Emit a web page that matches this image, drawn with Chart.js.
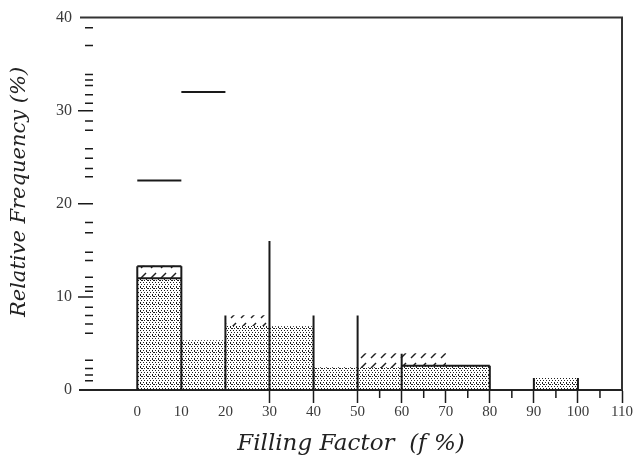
<!DOCTYPE html>
<html>
<head>
<meta charset="utf-8">
<script src="https://cdn.jsdelivr.net/npm/chart.js@4"></script>
<style>
  html, body { margin: 0; padding: 0; background: #fff; }
  #wrap { width: 636px; height: 458px; }
</style>
</head>
<body>
<div id="wrap"><canvas id="freqChart" width="636" height="458"></canvas></div>
<script>
// histogram bins (left edge of each 10% bin) and their heights
const binWidth = 10;
const binLeft = [0, 10, 20, 30, 40, 50, 60, 70, 90];
const dottedPct = [12.0, 5.3, 6.9, 6.8, 2.4, 2.4, 2.6, 2.6, 1.3];

// hatched caps sitting on top of some bins
const hatchLeft = [0, 20, 50, 60];
const hatchLow = [12.0, 6.9, 2.4, 2.6];
const hatchTop = [13.3, 8.0, 3.9, 3.9];

// vertical rules drawn up from the axis
const vLineX = [0, 10, 20, 30, 40, 50, 60, 80, 90, 100];
const vLineTop = [13.3, 13.3, 8.0, 16.0, 8.0, 8.0, 3.9, 2.6, 1.3, 1.3];

// horizontal segments
const hSegFrom = [0, 0, 60, 0, 10];
const hSegTo = [10, 10, 80, 10, 20];
const hSegLevel = [13.3, 12.0, 2.6, 22.5, 32.0];

// axis ticks
const xTickValues = [0, 10, 20, 30, 40, 50, 60, 70, 80, 90, 100, 110];
const xMinorTicks = [55, 65, 75, 85, 95, 105];
const yTickValues = [0, 10, 20, 30, 40];
const yMinorTicks = [1, 1.6, 2.3, 3.2, 6.1, 7.1, 8, 8.9, 10.6, 11.1, 12.1, 13.9, 14.8,
    16.9, 18, 22.9, 23.8, 24.9, 25.9, 27.9, 28.9, 30.8, 31.7, 32.7, 33.3, 33.9, 37, 38.9];

const ink = '#1a1a1a';
const serif = "'Liberation Serif', 'DejaVu Serif', serif";
const wideSerif = "'DejaVu Serif', 'Liberation Serif', serif";

// stipple fill used for the main bars
function makeDotPattern() {
    const c = document.createElement('canvas');
    c.width = 6; c.height = 8;
    const g = c.getContext('2d');
    g.fillStyle = '#1e1e1e';
    g.fillRect(0, 0, 1, 1);
    g.fillRect(3, 0, 2, 1);
    g.fillRect(2, 2, 1, 1);
    g.fillRect(5, 2, 1, 1);
    g.fillRect(0, 4, 1, 1);
    g.fillRect(3, 4, 1, 1);
    g.fillRect(2, 6, 1, 2);
    g.fillRect(5, 6, 1, 1);
    return g.createPattern(c, 'repeat');
}

// short slashes used for the hatched caps
function makeHatchPattern() {
    const c = document.createElement('canvas');
    c.width = 10; c.height = 10;
    const g = c.getContext('2d');
    g.strokeStyle = '#1e1e1e';
    g.lineWidth = 1.5;
    g.beginPath();
    g.moveTo(1, 8);
    g.lineTo(6, 3);
    g.stroke();
    return g.createPattern(c, 'repeat');
}

const ctx = document.getElementById('freqChart').getContext('2d');

const dottedData = binLeft.map((l, i) => ({ x: l + binWidth / 2, y: dottedPct[i] }));
const hatchData = hatchLeft.map((l, i) => ({ x: l + binWidth / 2, y: [hatchLow[i], hatchTop[i]] }));

const ruleData = [];
vLineX.forEach((x, i) => {
    ruleData.push({ x: x, y: 0 }, { x: x, y: vLineTop[i] }, { x: x, y: null });
});
hSegFrom.forEach((x, i) => {
    ruleData.push({ x: x, y: hSegLevel[i] }, { x: hSegTo[i], y: hSegLevel[i] }, { x: hSegTo[i], y: null });
});

// frame, small ticks and the rotated y title
const decorations = {
    id: 'decorations',
    afterDraw(chart) {
        const { ctx: c, chartArea: a, scales } = chart;
        const xs = scales.x, ys = scales.y;
        c.save();
        c.strokeStyle = '#333';
        c.lineWidth = 2;
        c.beginPath();
        c.moveTo(a.left, a.top);
        c.lineTo(a.right, a.top);
        c.lineTo(a.right, a.bottom);
        c.stroke();

        c.strokeStyle = ink;
        c.lineWidth = 1.5;
        c.beginPath();
        xMinorTicks.forEach(v => {
            const px = xs.getPixelForValue(v);
            c.moveTo(px, a.bottom);
            c.lineTo(px, a.bottom + 8);
        });
        yTickValues.slice(1, -1).forEach(v => {
            const py = ys.getPixelForValue(v);
            c.moveTo(a.left - 2, py);
            c.lineTo(a.left + 13, py);
        });
        yMinorTicks.forEach(v => {
            const py = ys.getPixelForValue(v);
            c.moveTo(a.left + 5, py);
            c.lineTo(a.left + 13, py);
        });
        c.stroke();

        c.translate(20, 192);
        c.rotate(-Math.PI / 2);
        c.fillStyle = '#222';
        c.font = 'italic 21px ' + wideSerif;
        c.textAlign = 'center';
        c.textBaseline = 'middle';
        c.fillText('Relative Frequency (%)', 0, 0);
        c.restore();
    }
};

new Chart(ctx, {
    type: 'bar',
    data: {
        datasets: [
            {
                label: 'dotted',
                data: dottedData,
                backgroundColor: makeDotPattern(),
                borderWidth: 0,
                grouped: false,
                barPercentage: 1,
                categoryPercentage: 1,
                order: 2
            },
            {
                label: 'hatched',
                data: hatchData,
                backgroundColor: makeHatchPattern(),
                borderWidth: 0,
                grouped: false,
                barPercentage: 1,
                categoryPercentage: 1,
                order: 1
            },
            {
                type: 'line',
                label: 'rules',
                data: ruleData,
                borderColor: ink,
                borderWidth: 2,
                pointRadius: 0,
                spanGaps: false,
                fill: false,
                order: 0
            }
        ]
    },
    options: {
        responsive: false,
        animation: false,
        layout: { padding: { top: 17, right: 14, left: 0, bottom: 0 } },
        plugins: {
            legend: { display: false },
            tooltip: { enabled: false }
        },
        scales: {
            x: {
                type: 'linear',
                min: -13,
                max: 110,
                offset: false,
                afterBuildTicks: axis => { axis.ticks = xTickValues.map(v => ({ value: v })); },
                afterFit: axis => { axis.height = 68; },
                border: { display: true, color: '#222', width: 2 },
                grid: {
                    offset: false,
                    drawOnChartArea: false,
                    drawTicks: true,
                    tickLength: 13,
                    tickWidth: 1.5,
                    tickColor: c => (c.tick && c.tick.value >= 30 ? ink : 'rgba(0,0,0,0)')
                },
                ticks: {
                    padding: 0,
                    maxRotation: 0,
                    autoSkip: false,
                    color: '#3a3a3a',
                    font: { family: serif, size: 15 },
                    callback: v => String(v)
                },
                title: {
                    display: true,
                    text: 'Filling Factor  (f %)',
                    color: '#222',
                    font: { family: wideSerif, size: 23, style: 'italic' },
                    padding: { top: 7, bottom: 0 }
                }
            },
            y: {
                min: 0,
                max: 40,
                afterBuildTicks: axis => { axis.ticks = yTickValues.map(v => ({ value: v })); },
                afterFit: axis => { axis.width = 80; },
                border: { display: false },
                grid: { drawOnChartArea: false, drawTicks: false },
                ticks: {
                    padding: 8,
                    color: '#3a3a3a',
                    font: { family: serif, size: 16 },
                    callback: v => String(v)
                }
            }
        }
    },
    plugins: [decorations]
});
</script>
</body>
</html>
